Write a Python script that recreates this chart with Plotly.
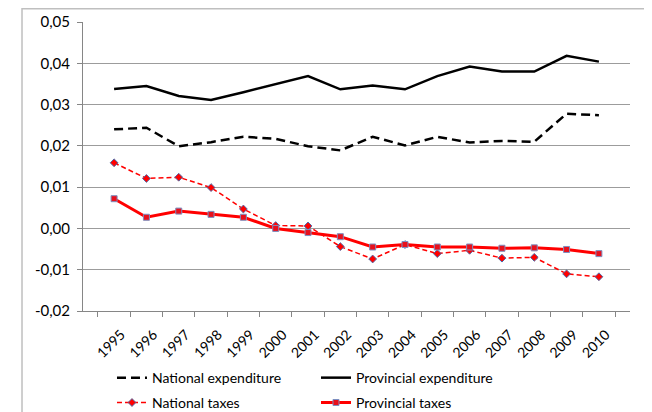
import plotly.graph_objects as go

years = [str(y) for y in range(1995, 2011)]

national_expenditure = [0.0240, 0.0244, 0.0199, 0.0209, 0.0222, 0.0217, 0.0199, 0.0189,
                        0.0222, 0.0201, 0.0222, 0.0208, 0.0212, 0.0210, 0.0278, 0.0274]
provincial_expenditure = [0.0338, 0.0345, 0.0321, 0.0311, 0.0330, 0.0349, 0.0369, 0.0337,
                          0.0346, 0.0337, 0.0369, 0.0392, 0.0380, 0.0380, 0.0418, 0.0404]
national_taxes = [0.0159, 0.0121, 0.0124, 0.0099, 0.0047, 0.0007, 0.0006, -0.0044,
                  -0.0074, -0.0039, -0.0061, -0.0053, -0.0072, -0.0070, -0.0110, -0.0117]
provincial_taxes = [0.0072, 0.0027, 0.0042, 0.0034, 0.0027, 0.0000, -0.0010, -0.0020,
                    -0.0045, -0.0039, -0.0045, -0.0045, -0.0048, -0.0047, -0.0051, -0.0061]

y_ticks = [-0.02, -0.01, 0.0, 0.01, 0.02, 0.03, 0.04, 0.05]
y_labels = ["-0,02", "-0,01", "0,00", "0,01", "0,02", "0,03", "0,04", "0,05"]

FONT = "Lato"
# page body has an 8px margin, so the figure is a bit smaller than the window
W, H = 644, 404

fig = go.Figure()
fig.add_trace(go.Scatter(
    x=years, y=national_expenditure, mode="lines", name="National expenditure",
    line=dict(color="black", width=2.5, dash="9px,5px"), legend="legend",
))
fig.add_trace(go.Scatter(
    x=years, y=provincial_expenditure, mode="lines", name="Provincial expenditure",
    line=dict(color="black", width=2.5), legend="legend",
))
fig.add_trace(go.Scatter(
    x=years, y=national_taxes, mode="lines+markers", name="National taxes",
    line=dict(color="#ff0000", width=1.5, dash="5px,3px"),
    marker=dict(symbol="diamond", size=6, color="#ff0000",
                line=dict(color="#4f6aa8", width=1)),
    legend="legend2",
))
fig.add_trace(go.Scatter(
    x=years, y=provincial_taxes, mode="lines+markers", name="Provincial taxes",
    line=dict(color="#ff0000", width=3),
    marker=dict(symbol="square", size=6, color="#e8101c",
                line=dict(color="#7d8fc0", width=1)),
    legend="legend2",
))

legend_style = dict(
    orientation="h", x=0.053, xanchor="left", yanchor="middle",
    entrywidth=159, entrywidthmode="pixels", itemwidth=30,
    font=dict(family=FONT, size=14, color="black"),
    bgcolor="rgba(0,0,0,0)",
)

fig.update_layout(
    width=W, height=H,
    margin=dict(l=75, r=22, t=14, b=101, autoexpand=False),
    paper_bgcolor="white", plot_bgcolor="white",
    font=dict(family=FONT, size=13, color="black"),
    showlegend=True,
    legend=dict(legend_style, y=-0.232),
    legend2=dict(legend_style, y=-0.318),
    xaxis=dict(
        type="category", tickangle=-45, tickson="boundaries",
        ticks="outside", ticklen=5, tickcolor="#868686",
        ticklabelstandoff=9, ticklabelshift=7,
        showline=True, linecolor="#868686", linewidth=1,
        showgrid=False, tickfont=dict(family=FONT, size=14),
    ),
    yaxis=dict(
        range=[-0.02, 0.05], tickvals=y_ticks, ticktext=y_labels,
        ticks="outside", ticklen=5, tickcolor="#868686",
        ticklabelstandoff=4,
        showline=True, linecolor="#868686", linewidth=1,
        showgrid=True, gridcolor="#9c9c9c", gridwidth=1, zeroline=False,
        tickfont=dict(family=FONT, size=15),
    ),
    shapes=[dict(
        type="rect", xref="paper", yref="paper",
        x0=-0.1115, x1=1.0329, y0=-0.45, y1=1.046,
        line=dict(color="#bfbfbf", width=1.5), layer="below",
    )],
)

fig.write_html("out.html")
